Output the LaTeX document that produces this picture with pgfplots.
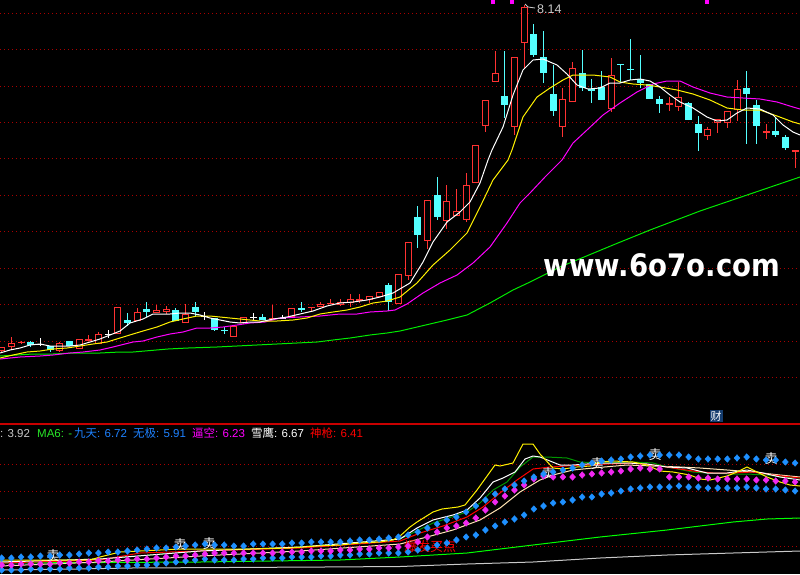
\documentclass[border=0pt]{standalone}
\usepackage{fontspec}
\setmainfont{Liberation Sans}
\newfontfamily\cjk{Noto Sans CJK SC}
\newfontfamily\wmfont{DejaVu Sans}
\usepackage{pgfplots}
\pgfplotsset{compat=1.18}
\usepackage{pgfplotstable}

\definecolor{upred}{RGB}{255,50,50}
\definecolor{dncyan}{RGB}{84,255,255}
\definecolor{gridred}{RGB}{170,0,0}
\definecolor{sepred}{RGB}{200,0,0}
\definecolor{maMag}{RGB}{255,0,255}
\definecolor{maGreen}{RGB}{0,235,0}
\definecolor{dotblue}{RGB}{30,144,255}
\definecolor{dotmag}{RGB}{240,40,240}
\definecolor{dkgreen}{RGB}{0,150,0}
\definecolor{beige}{RGB}{255,228,180}
\definecolor{hdrblue}{RGB}{30,130,255}
\definecolor{hdrgreen}{RGB}{40,230,40}
\definecolor{caibox}{RGB}{20,60,110}
\definecolor{lgray}{RGB}{200,200,200}

% candles: index, body top, body bottom, high, low (pixel rows, 0 = top)
\pgfplotstableread{
i top bot hi lo
0 347 351 347 352
1 343 347 337 350
2 342 343 341 344
6 343 351 342 352
8 339 349 339 349
9 339 341 335 341
10 334 344 332 344
12 307 334 307 334
14 312 321 308 321
16 310 313 305 313
17 309 312 306 314
19 314 323 304 323
24 326 337 326 337
25 317 323 317 324
28 318 319 305 319
30 308 317 308 317
32 307 308 307 312
33 304 307 302 307
34 303 304 299 304
35 302 305 299 306
36 299 303 294 307
37 299 301 294 303
38 296 300 296 303
39 292 297 292 297
41 274 304 274 304
42 242 276 242 280
44 200 241 200 249
46 201 221 185 229
47 211 216 189 216
48 185 220 173 222
49 145 183 145 183
50 100 126 100 132
51 73 82 51 82
53 57 127 57 135
54 7 43 5 68
58 99 127 88 137
59 68 102 62 102
63 75 109 58 112
69 103 105 97 111
70 97 107 82 111
73 129 136 127 140
74 119 123 119 133
75 111 123 111 128
76 89 110 80 121
79 131 133 124 139
82 150 152 150 168
}\redcandles

\pgfplotstableread{
i top bot hi lo
3 342 345 341 347
5 346 350 346 352
7 341 346 341 346
13 320 323 313 326
15 309 312 302 317
18 310 321 308 321
20 307 312 302 317
22 318 330 318 331
23 330 331 327 334
27 317 320 314 320
31 308 310 302 312
40 285 302 283 311
43 217 235 206 248
45 195 217 177 220
52 96 105 51 118
55 34 55 24 57
56 57 73 31 83
57 94 111 65 116
60 73 88 50 91
61 89 91 79 103
62 87 100 71 100
64 64 65 64 83
65 69 70 39 80
66 79 83 55 88
67 84 99 84 99
68 99 104 96 113
71 103 120 102 120
72 124 133 116 151
77 88 94 71 144
78 105 126 100 144
80 131 135 117 137
81 137 148 135 150
}\cyancandles

\pgfplotstableread{
i top bot hi lo
4 344 345 338 346
11 334 335 330 338
21 316 317 312 320
26 317 318 313 321
29 318 319 315 319
}\dojicandles

% indicator dots: upper band, middle, lower band
\pgfplotstableread{
i up mid low
0 558 565 570
1 558 565 570
2 557 564 570
3 557 564 569
4 556 564 569
5 556 564 569
6 555 563 569
7 555 563 568
8 554 562 568
9 553 562 568
10 553 561 567
11 552 561 567
12 552 560 566
13 551 560 566
14 550 559 565
15 549 559 565
16 548 558 564
17 548 557 563
18 547 556 562
19 546 556 561
20 545 555 560
21 544 554 559
22 545 553 560
23 545 553 560
24 546 553 560
25 546 553 559
26 544 553 559
27 544 553 558
28 544 553 558
29 544 552 558
30 543 552 557
31 543 552 557
32 542 551 557
33 542 551 556
34 542 551 556
35 542 550 555
36 541 550 555
37 540 549 554
38 540 549 554
39 539 548 553
40 538 548 553
41 537 547 553
42 535 546 552
43 532 542 550
44 528 537 548
45 524 532 545
46 520 528 543
47 517 526 540
48 512 523 537
49 506 518 535
50 500 510 530
51 494 502 526
52 489 496 522
53 485 490 519
54 481 485 515
55 477 479 509
56 474 476 506
57 472 477 503
58 470 477 502
59 468 477 500
60 465 475 497
61 463 474 497
62 461 473 494
63 460 472 493
64 459 471 491
65 457 469 489
66 456 468 488
67 455 469 487
68 455 469 487
69 455 477 487
70 455 477 486
71 457 477 487
72 459 478 487
73 459 478 488
74 459 479 488
75 459 479 488
76 458 479 488
77 457 479 487
78 459 480 488
79 460 480 489
80 460 481 489
81 462 481 490
82 463 482 491
}\dots

\begin{document}
\begin{tikzpicture}
\fill[black] (0,0) rectangle (800pt,574pt);
\begin{axis}[
  at={(0pt,0pt)}, anchor=south west,
  scale only axis, width=800pt, height=574pt,
  xmin=0, xmax=800, ymin=0, ymax=574, y dir=reverse,
  axis line style={draw=none}, tick style={draw=none},
  xtick=\empty,
  ytick={13,49,86,122,158,195,231,268,304,341,377,464,491,518.5,546},
  yticklabels={}, ymajorgrids=true,
  major grid style={gridred, line width=0.8pt, dash pattern=on 1pt off 3pt},
  clip=true,
]
% ---------- candles ----------
% wicks
\addplot[draw=none, mark=none, forget plot,
  error bars/.cd, y dir=plus, y explicit, error mark=none,
  error bar style={draw=upred, line width=1pt}]
  table[x expr=1.7+9.675*\thisrow{i}, y=hi, y error expr=\thisrow{lo}-\thisrow{hi}] {\redcandles};
\addplot[draw=none, mark=none, forget plot,
  error bars/.cd, y dir=plus, y explicit, error mark=none,
  error bar style={draw=dncyan, line width=1pt}]
  table[x expr=1.7+9.675*\thisrow{i}, y=hi, y error expr=\thisrow{lo}-\thisrow{hi}] {\cyancandles};
\addplot[draw=none, mark=none, forget plot,
  error bars/.cd, y dir=plus, y explicit, error mark=none,
  error bar style={draw=white, line width=1pt}]
  table[x expr=1.7+9.675*\thisrow{i}, y=hi, y error expr=\thisrow{lo}-\thisrow{hi}] {\dojicandles};
% bodies
\addplot[draw=none, mark=none, forget plot,
  error bars/.cd, y dir=plus, y explicit, error mark=none,
  error bar style={draw=upred, line width=7pt}]
  table[x expr=1.7+9.675*\thisrow{i}, y=top, y error expr=\thisrow{bot}-\thisrow{top}] {\redcandles};
\addplot[draw=none, mark=none, forget plot,
  error bars/.cd, y dir=plus, y explicit, error mark=none,
  error bar style={draw=black, line width=5pt}]
  table[x expr=1.7+9.675*\thisrow{i}, y expr=\thisrow{top}+1, y error expr={max(\thisrow{bot}-\thisrow{top}-2,0)}] {\redcandles};
\addplot[draw=none, mark=none, forget plot,
  error bars/.cd, y dir=plus, y explicit, error mark=none,
  error bar style={draw=dncyan, line width=7pt}]
  table[x expr=1.7+9.675*\thisrow{i}, y=top, y error expr=\thisrow{bot}-\thisrow{top}] {\cyancandles};
\addplot[draw=none, mark=none, forget plot,
  error bars/.cd, y dir=plus, y explicit, error mark=none,
  error bar style={draw=white, line width=7pt}]
  table[x expr=1.7+9.675*\thisrow{i}, y=top, y error expr=\thisrow{bot}-\thisrow{top}] {\dojicandles};

% ---------- moving averages (top panel) ----------
\addplot[maGreen, line width=1pt, mark=none] coordinates {
(0,356)(17,355)(33,354)(53,354)(73,353)(100,353)(120,352)(133,352)(168,349)(188,348)(217,347)(237,346)(257,345)(277,344)(297,343)(317,342)(333,340)(350,338)(370,335)(387,333)(400,331)(447,320)(467,315)(490,303)(513,290)(530,282)(560,267)(613,245)(650,230)(700,211)(750,194)(800,177)};
\addplot[maMag, line width=1pt, mark=none] coordinates {
(0,359)(20,357)(40,356)(53,355)(70,353)(83,352)(100,350)(113,347)(133,342)(143,341)(157,337)(170,334)(183,332)(197,328)(210,328)(223,327)(237,325)(250,323)(265,322)(280,318)(300,317)(320,316)(340,314)(357,314)(370,312)(387,311)(395,310)(407,304)(423,293)(440,283)(457,275)(473,263)(490,247)(507,223)(520,203)(530,193)(545,177)(562,160)(573,143)(587,130)(603,115)(620,103)(637,92)(653,84)(667,81)(680,81)(693,87)(710,93)(727,97)(743,98)(760,99)(777,102)(793,107)(800,109)};
\addplot[yellow, line width=1pt, mark=none] coordinates {
(0,358)(13,355)(27,352)(40,351)(53,349)(67,348)(80,346)(93,344)(107,342)(120,338)(133,334)(143,331)(157,327)(170,322)(183,319)(197,316)(210,316)(220,317)(230,318)(240,319)(250,320)(260,321)(277,321)(293,320)(307,318)(320,314)(333,312)(347,310)(360,307)(373,303)(387,301)(400,297)(417,283)(433,265)(450,250)(467,233)(480,207)(493,180)(508,160)(512,150)(523,117)(537,97)(550,88)(563,80)(573,75)(593,75)(610,77)(620,82)(633,84)(647,85)(660,87)(677,90)(693,94)(710,100)(727,108)(743,110)(760,110)(777,116)(793,122)(800,124)};
\addplot[white, line width=1pt, mark=none] coordinates {
(0,353)(10,350)(20,348)(30,345)(40,344)(50,346)(60,346)(70,346)(80,345)(90,342)(100,339)(110,335)(120,331)(130,323)(143,319)(153,314)(160,314)(170,314)(180,313)(190,313)(200,315)(210,318)(220,320)(230,322)(240,323)(250,322)(260,322)(273,319)(287,317)(300,314)(313,311)(327,306)(340,303)(353,302)(367,300)(380,297)(393,293)(410,283)(423,262)(433,242)(447,222)(460,212)(470,202)(480,183)(488,160)(492,150)(503,127)(513,95)(523,70)(533,60)(543,59)(557,65)(567,74)(577,85)(588,89)(600,88)(610,83)(620,83)(630,80)(640,79)(650,81)(660,87)(670,95)(680,102)(693,108)(707,117)(717,121)(727,120)(737,113)(747,108)(760,109)(773,115)(783,125)(793,132)(800,135)};
% signal squares at the top
\addplot[only marks, mark=square*, mark size=1.5pt, maMag] coordinates {(493,1.5)(512,1.5)(707,1.5)};

% ---------- indicator panel ----------
\addplot[lgray, line width=1pt, mark=none] coordinates {
(0,570)(77,569)(130,568)(323,567)(400,566.5)(467,564)(533,562)(600,558)(667,555)(733,553)(800,551)};
\addplot[green, line width=1pt, mark=none] coordinates {
(0,563)(200,562)(340,560)(400,557)(467,553)(533,545)(600,537)(667,530)(733,522)(767,519)(800,518)};
\addplot[beige, line width=1pt, mark=none] coordinates {
(0,566)(100,562)(200,556)(300,551)(400,544)(427,537)(453,530)(480,520)(500,508)(520,492)(540,480)(553,475)(573,470)(593,468)(627,465)(653,466)(680,467)(700,468)(727,470)(753,472)(780,475)(800,477)};
\addplot[dkgreen, line width=1pt, mark=none] coordinates {
(0,562)(100,559)(200,551)(300,547)(400,539)(433,523)(467,512)(480,503)(493,490)(507,482)(520,467)(533,457)(547,457)(567,458)(580,462)(600,463)(633,462)(653,463)(667,467)(693,472)(707,473)(733,474)(747,474)(767,475)(783,477)(800,478)};
\addplot[red, line width=1pt, mark=none] coordinates {
(0,563)(100,560)(140,553)(200,551)(300,548)(400,541)(420,533)(443,526)(467,517)(483,507)(500,493)(517,480)(533,469)(550,467)(567,466)(587,465)(607,464)(633,463)(653,465)(673,468)(693,471)(713,473)(733,473)(753,472)(773,475)(800,478)};
\addplot[white, line width=1pt, mark=none] coordinates {
(0,562)(100,559)(200,551)(300,547)(400,539)(417,528)(433,520)(453,515)(467,510)(480,498)(493,482)(503,478)(515,472)(525,459)(533,456)(540,457)(550,461)(560,465)(573,465)(587,464)(603,463)(627,463)(647,464)(667,467)(687,468)(707,473)(727,473)(747,470)(763,473)(780,477)(800,480)};
\addplot[yellow, line width=1pt, mark=none] coordinates {
(0,560)(43,560)(90,560)(100,557)(120,552)(140,551)(160,550)(180,549)(210,549)(250,549)(290,548)(317,546)(340,545)(360,543)(380,542)(393,540)(400,536)(410,527)(417,522)(433,512)(442,509)(458,507)(465,505)(477,490)(495,465)(500,466)(513,463)(523,444)(533,444)(540,454)(553,468)(563,469)(577,467)(590,466)(600,462)(613,461)(633,462)(647,465)(660,471)(673,472)(690,475)(700,479)(710,480)(727,476)(737,472)(747,467)(757,472)(767,477)(780,482)(790,485)(800,486)};
% dots
\addplot[only marks, mark=diamond*, mark size=3.3pt, mark options={xscale=1.2}, dotblue]
  table[x expr=1.7+9.675*\thisrow{i}, y=low] {\dots};
\addplot[only marks, mark=diamond*, mark size=3.3pt, mark options={xscale=1.2}, dotmag]
  table[x expr=1.7+9.675*\thisrow{i}, y=mid] {\dots};
\addplot[only marks, mark=diamond*, mark size=3.3pt, mark options={xscale=1.2}, dotblue]
  table[x expr=1.7+9.675*\thisrow{i}, y=up] {\dots};

% separator
\draw[sepred, line width=1.5pt] (axis cs:0,424) -- (axis cs:800,424);

% ---------- texts ----------
\draw[lgray, line width=0.8pt] (axis cs:525,4) -- (axis cs:528,7) -- (axis cs:535,8);
\node[anchor=base west, text=lgray, font=\fontsize{12.5}{12.5}\selectfont, inner sep=0pt] at (axis cs:537,13) {8.14};

\node[text=white, font=\wmfont\bfseries\fontsize{31}{31}\selectfont, xscale=0.89, inner sep=0pt, anchor=base] at (axis cs:662,276) {www.6o7o.com};

\node[fill=caibox, text=white, inner sep=1pt, font=\cjk\fontsize{11}{11}\selectfont] at (axis cs:716,416) {财};

\begin{scope}[every node/.style={anchor=base west, inner sep=0pt, font=\fontsize{11.5}{11.5}\selectfont}]
\node[text=lgray] at (axis cs:0,437) {: 3.92};
\node[text=hdrgreen] at (axis cs:37,437) {MA6: -};
\node[text=hdrblue] at (axis cs:74,437) {{\cjk 九天}: 6.72};
\node[text=hdrblue] at (axis cs:133,437) {{\cjk 无极}: 5.91};
\node[text=maMag] at (axis cs:192,437) {{\cjk 逼空}: 6.23};
\node[text=white] at (axis cs:251,437) {{\cjk 雪鹰}: 6.67};
\node[text=red] at (axis cs:310,437) {{\cjk 神枪}: 6.41};
\end{scope}

\begin{scope}[every node/.style={text=white, inner sep=0pt, font=\cjk\fontsize{13}{13}\selectfont}]
\node at (axis cs:53,556) {卖};
\node at (axis cs:180,545) {卖};
\node at (axis cs:209,544) {卖};
\node at (axis cs:548,474) {卖};
\node at (axis cs:597,464) {卖};
\node at (axis cs:655,455) {卖};
\node at (axis cs:771,459) {卖};
\end{scope}
\node[text=red, inner sep=0pt, font=\cjk\fontsize{13}{13}\selectfont] at (axis cs:430,547) {爆发买点};
\end{axis}
\pgfresetboundingbox
\useasboundingbox (0,0) rectangle (800pt,574pt);
\end{tikzpicture}
\end{document}
